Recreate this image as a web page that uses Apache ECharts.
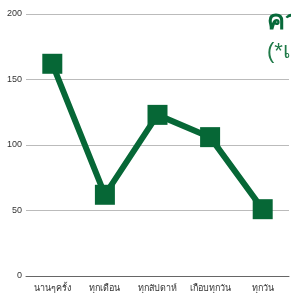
<!DOCTYPE html>
<html><head><meta charset="utf-8">
<script src="https://cdn.jsdelivr.net/npm/echarts@6/dist/echarts.min.js"></script>
<style>html,body{margin:0;padding:0;background:#fff}#c{width:291px;height:293px}</style>
</head><body><div id="c"></div>
<script>
var categories = ['นานๆครั้ง', 'ทุกเดือน', 'ทุกสัปดาห์', 'เกือบทุกวัน', 'ทุกวัน'];
var values = [162, 62, 123, 106, 51];
var yTicks = {min: 0, max: 200, interval: 50};
var titleText = 'ความถี่ในการใช้บริการ';
var subtitleText = '(*เป็นจำนวนคน)';

var chart = echarts.init(document.getElementById('c'));
chart.setOption({
  animation: false,
  title: {
    text: titleText,
    subtext: subtitleText,
    left: 262, top: 3,
    itemGap: 6,
    textStyle: {color: '#07693a', fontSize: 27, fontWeight: 'bold'},
    subtextStyle: {color: '#1f7a48', fontSize: 22}
  },
  grid: {left: 26, right: 2, top: 14, bottom: 17, containLabel: false},
  xAxis: {
    type: 'category', data: categories, boundaryGap: true,
    axisLine: {lineStyle: {color: '#666', width: 1}},
    axisTick: {show: false},
    axisLabel: {color: '#333', fontSize: 9, margin: 8, interval: 0}
  },
  yAxis: {
    type: 'value', min: yTicks.min, max: yTicks.max, interval: yTicks.interval,
    axisLine: {show: false}, axisTick: {show: false},
    axisLabel: {color: '#333', fontSize: 9, margin: 4},
    splitLine: {lineStyle: {color: '#bbb', width: 1}}
  },
  series: [{
    type: 'line', data: values,
    symbol: 'rect', symbolSize: 20,
    lineStyle: {color: '#066736', width: 6},
    itemStyle: {color: '#066736'}
  }]
});
</script></body></html>
